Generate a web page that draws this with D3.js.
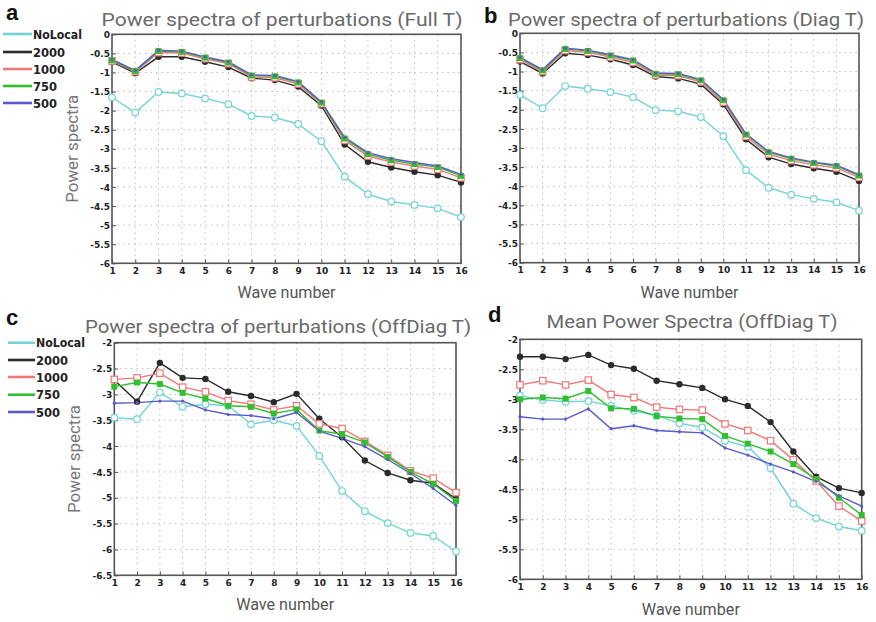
<!DOCTYPE html>
<html><head><meta charset="utf-8">
<script src="https://cdn.jsdelivr.net/npm/d3@7"></script>
<style>
body{margin:0;background:#fff;}
svg{display:block;}
</style></head>
<body>
<svg id="chart" width="876" height="622"></svg>
<script>
// ---------- DATA ----------
const waveNumbers = [1,2,3,4,5,6,7,8,9,10,11,12,13,14,15,16];
const seriesNames = ["NoLocal","2000","1000","750","500"];

// Panel a: Full T
const aNoLocal = [-1.65,-2.05,-1.51,-1.55,-1.68,-1.83,-2.14,-2.18,-2.35,-2.80,-3.73,-4.19,-4.38,-4.47,-4.56,-4.79];
const a2000    = [-0.72,-1.02,-0.59,-0.59,-0.72,-0.86,-1.15,-1.20,-1.37,-1.87,-2.89,-3.34,-3.49,-3.60,-3.69,-3.88];
const a1000    = [-0.70,-0.98,-0.48,-0.49,-0.64,-0.77,-1.12,-1.14,-1.30,-1.82,-2.78,-3.19,-3.35,-3.45,-3.54,-3.76];
const a750     = [-0.68,-0.96,-0.44,-0.46,-0.61,-0.74,-1.08,-1.10,-1.26,-1.79,-2.73,-3.14,-3.30,-3.40,-3.48,-3.71];
const a500     = [-0.66,-0.95,-0.42,-0.44,-0.59,-0.72,-1.06,-1.08,-1.24,-1.77,-2.70,-3.10,-3.26,-3.36,-3.45,-3.67];

// Panel b: Diag T
const bNoLocal = [-1.61,-1.96,-1.38,-1.45,-1.54,-1.67,-2.01,-2.04,-2.19,-2.69,-3.58,-4.04,-4.22,-4.33,-4.42,-4.64];
const b2000    = [-0.74,-1.05,-0.52,-0.57,-0.68,-0.83,-1.13,-1.18,-1.33,-1.86,-2.77,-3.24,-3.42,-3.53,-3.62,-3.86];
const b1000    = [-0.69,-1.00,-0.45,-0.50,-0.62,-0.76,-1.09,-1.11,-1.27,-1.80,-2.70,-3.16,-3.33,-3.44,-3.52,-3.77];
const b750     = [-0.65,-0.97,-0.41,-0.46,-0.58,-0.71,-1.06,-1.07,-1.23,-1.75,-2.65,-3.11,-3.28,-3.39,-3.47,-3.72];
const b500     = [-0.63,-0.95,-0.39,-0.44,-0.56,-0.69,-1.04,-1.05,-1.21,-1.73,-2.63,-3.09,-3.26,-3.37,-3.45,-3.70];

// Panel c: OffDiag T
const cNoLocal = [-3.45,-3.48,-2.96,-3.24,-3.19,-3.22,-3.58,-3.50,-3.61,-4.19,-4.87,-5.26,-5.49,-5.68,-5.74,-6.04];
const c2000    = [-2.72,-3.14,-2.39,-2.68,-2.70,-2.95,-3.03,-3.15,-2.99,-3.47,-3.83,-4.28,-4.52,-4.66,-4.72,-5.02];
const c1000    = [-2.71,-2.68,-2.59,-2.86,-2.95,-3.12,-3.19,-3.30,-3.22,-3.57,-3.66,-3.91,-4.18,-4.48,-4.62,-4.90];
const c750     = [-2.85,-2.77,-2.80,-2.97,-3.08,-3.22,-3.24,-3.37,-3.29,-3.70,-3.77,-3.93,-4.21,-4.50,-4.73,-5.06];
const c500     = [-3.17,-3.16,-3.13,-3.13,-3.30,-3.39,-3.41,-3.47,-3.35,-3.71,-3.85,-4.01,-4.26,-4.53,-4.82,-5.15];

// Panel d: Mean OffDiag T
const dNoLocal = [-2.94,-3.01,-3.04,-3.03,-3.11,-3.19,-3.27,-3.40,-3.47,-3.69,-3.79,-4.15,-4.74,-4.98,-5.12,-5.19];
const d2000    = [-2.29,-2.29,-2.33,-2.26,-2.43,-2.49,-2.69,-2.75,-2.81,-3.00,-3.11,-3.38,-3.87,-4.29,-4.48,-4.56];
const d1000    = [-2.76,-2.69,-2.76,-2.68,-2.92,-2.97,-3.13,-3.17,-3.18,-3.41,-3.52,-3.69,-4.01,-4.36,-4.78,-5.03];
const d750     = [-3.00,-2.97,-2.99,-2.86,-3.15,-3.16,-3.28,-3.32,-3.33,-3.61,-3.74,-3.87,-4.08,-4.33,-4.64,-4.93];
const d500     = [-3.29,-3.33,-3.33,-3.16,-3.49,-3.44,-3.52,-3.54,-3.56,-3.81,-3.93,-4.08,-4.21,-4.37,-4.61,-4.78];

const yTicksAB = [0,-0.5,-1,-1.5,-2,-2.5,-3,-3.5,-4,-4.5,-5,-5.5,-6];
const yTicksC  = [-2,-2.5,-3,-3.5,-4,-4.5,-5,-5.5,-6,-6.5];
const yTicksD  = [-2,-2.5,-3,-3.5,-4,-4.5,-5,-5.5,-6];

const titles = ["Power spectra of perturbations (Full T)",
                "Power spectra of perturbations (Diag T)",
                "Power spectra of perturbations (OffDiag T)",
                "Mean Power Spectra (OffDiag T)"];
const panelLetters = ["a","b","c","d"];
const xLabel = "Wave number";
const yLabel = "Power spectra";

// ---------- STYLE ----------
const colors = {"NoLocal":"#72d4d4","2000":"#2b2b2b","1000":"#f07878","750":"#2fbf2f","500":"#5a5acc"};
const markers = {"NoLocal":"ocircle","2000":"fcircle","1000":"osquare","750":"fsquare","500":"dot"};
const legendTextW = {"NoLocal":49,"2000":32,"1000":32,"750":24,"500":24};

const panels = [
  {letter:0, data:[aNoLocal,a2000,a1000,a750,a500], yDom:[-6,0], yTicks:yTicksAB,
   box:{l:112,r:461,t:34.3,b:263.3}, legend:true, ylab:true,
   titleX:282, titleY:26, titleW:361, letterX:6, letterY:20, xlabY:298},
  {letter:1, data:[bNoLocal,b2000,b1000,b750,b500], yDom:[-6,0], yTicks:yTicksAB,
   box:{l:520,r:859,t:33.3,b:262.7}, legend:false, ylab:false,
   titleX:686, titleY:26, titleW:356, letterX:484, letterY:23, xlabY:298},
  {letter:2, data:[cNoLocal,c2000,c1000,c750,c500], yDom:[-6.5,-2], yTicks:yTicksC,
   box:{l:114.3,r:456,t:342.7,b:575.3}, legend:true, ylab:true,
   titleX:278, titleY:333, titleW:386, letterX:6, letterY:325, xlabY:610},
  {letter:3, data:[dNoLocal,d2000,d1000,d750,d500], yDom:[-6,-2], yTicks:yTicksD,
   box:{l:520,r:861.7,t:339.3,b:579.3}, legend:false, ylab:false,
   titleX:692, titleY:328, titleW:291, letterX:488, letterY:322, xlabY:615}
];

const svg = d3.select("#chart");
const titleFont = "Roboto, 'DejaVu Sans', sans-serif";
const labelFont = "'DejaVu Sans', sans-serif";

panels.forEach(p => {
  const g = svg.append("g");
  const x = d3.scaleLinear().domain([1,16]).range([p.box.l,p.box.r]);
  const y = d3.scaleLinear().domain(p.yDom).range([p.box.b,p.box.t]);

  // grid
  g.append("g").selectAll("line").data(waveNumbers.slice(1,-1)).join("line")
    .attr("x1",d=>x(d)).attr("x2",d=>x(d)).attr("y1",p.box.t).attr("y2",p.box.b)
    .attr("stroke","#bdbdbd").attr("stroke-width",1).attr("stroke-dasharray","1.5,4");
  g.append("g").selectAll("line").data(p.yTicks.slice(1,-1)).join("line")
    .attr("x1",p.box.l).attr("x2",p.box.r).attr("y1",d=>y(d)).attr("y2",d=>y(d))
    .attr("stroke","#bdbdbd").attr("stroke-width",1).attr("stroke-dasharray","1.5,4");

  // axes
  const xAxis = d3.axisBottom(x).tickValues(waveNumbers).tickSize(4).tickFormat(d3.format("d"));
  const yAxis = d3.axisLeft(y).tickValues(p.yTicks).tickSize(4).tickFormat(d=>String(d));
  const gx = g.append("g").attr("transform",`translate(0,${p.box.b})`).call(xAxis);
  const gy = g.append("g").attr("transform",`translate(${p.box.l},0)`).call(yAxis);
  [gx,gy].forEach(a=>{
    a.select(".domain").remove();
    a.selectAll(".tick line").attr("stroke","#555");
    a.selectAll("text").attr("fill","#222").style("font-family",labelFont)
      .style("font-size","9px").style("font-weight","bold");
  });
  gx.selectAll(".tick line").attr("y2",-4);
  gx.selectAll("text").attr("y",4);
  gy.selectAll(".tick line").attr("x2",4);
  gy.selectAll("text").attr("x",-2).attr("dy","0.35em");

  // frame
  g.append("rect").attr("x",p.box.l).attr("y",p.box.t)
    .attr("width",p.box.r-p.box.l).attr("height",p.box.b-p.box.t)
    .attr("fill","none").attr("stroke","#555").attr("stroke-width",1.6);

  // series
  const line = d3.line().x((d,i)=>x(waveNumbers[i])).y(d=>y(d));
  seriesNames.forEach((name,si)=>{
    g.append("path").datum(p.data[si]).attr("d",line).attr("fill","none")
      .attr("stroke",colors[name]).attr("stroke-width",1.4);
  });
  seriesNames.forEach((name,si)=>{
    const vals = p.data[si];
    const col = colors[name];
    const m = markers[name];
    const mg = g.append("g");
    vals.forEach((v,i)=>{
      const cx = x(waveNumbers[i]), cy = y(v);
      if (m==="ocircle") mg.append("circle").attr("cx",cx).attr("cy",cy).attr("r",3.3)
        .attr("fill","#fff").attr("stroke",col).attr("stroke-width",1.2);
      else if (m==="fcircle") mg.append("circle").attr("cx",cx).attr("cy",cy).attr("r",3.2)
        .attr("fill",col);
      else if (m==="osquare") mg.append("rect").attr("x",cx-3.2).attr("y",cy-3.2)
        .attr("width",6.4).attr("height",6.4).attr("fill","#fff").attr("stroke",col).attr("stroke-width",1.2);
      else if (m==="fsquare") mg.append("rect").attr("x",cx-3).attr("y",cy-3)
        .attr("width",6).attr("height",6).attr("fill",col);
      else mg.append("circle").attr("cx",cx).attr("cy",cy).attr("r",1.6).attr("fill",col);
    });
  });

  // title
  svg.append("text").attr("x",p.titleX).attr("y",p.titleY).attr("text-anchor","middle")
    .attr("fill","#6a6a6a").style("font-family",titleFont).style("font-size","18px")
    .attr("textLength",p.titleW).attr("lengthAdjust","spacingAndGlyphs")
    .text(titles[p.letter]);
  svg.append("text").attr("x",p.letterX).attr("y",p.letterY).attr("fill","#111")
    .style("font-family","'Liberation Sans', Arial, sans-serif").style("font-size","22px")
    .style("font-weight","bold").text(panelLetters[p.letter]);

  // x label
  svg.append("text").attr("x",(p.box.l+p.box.r)/2).attr("y",p.xlabY).attr("text-anchor","middle")
    .attr("fill","#555").style("font-family",titleFont).style("font-size","16px")
    .attr("textLength",98).attr("lengthAdjust","spacingAndGlyphs").text(xLabel);

  if (p.ylab) {
    const cy = (p.box.t+p.box.b)/2;
    svg.append("text").attr("transform",`translate(${p.box.l-34},${cy}) rotate(-90)`)
      .attr("text-anchor","middle").attr("fill","#777").style("font-family",titleFont)
      .style("font-size","16px").attr("textLength",108).attr("lengthAdjust","spacingAndGlyphs")
      .text(yLabel);
  }

  if (p.legend) {
    const lx0 = p.letter===0 ? 3 : 8, lx1 = p.letter===0 ? 32 : 35;
    const rowY = p.letter===0 ? [34,52,69,86,103] : [342.7,360,377,394.7,412];
    seriesNames.forEach((name,si)=>{
      svg.append("line").attr("x1",lx0).attr("x2",lx1).attr("y1",rowY[si]).attr("y2",rowY[si])
        .attr("stroke",colors[name]).attr("stroke-width",2.6);
      svg.append("text").attr("x",lx1+1).attr("y",rowY[si]).attr("dy","0.36em")
        .attr("fill","#222").style("font-family",labelFont)
        .style("font-size","13px").style("font-weight","bold")
        .attr("textLength",legendTextW[name]).attr("lengthAdjust","spacingAndGlyphs").text(name);
    });
  }
});
</script>
</body></html>
